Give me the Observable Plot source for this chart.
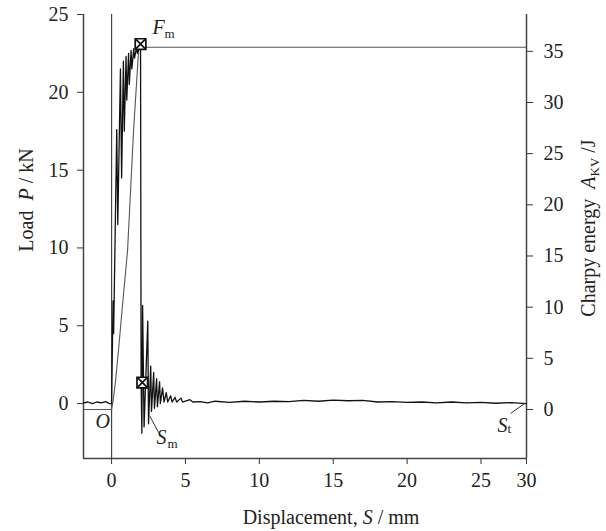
<!DOCTYPE html>
<html><head><meta charset="utf-8">
<script src="https://cdn.jsdelivr.net/npm/d3@7"></script>
<script src="https://cdn.jsdelivr.net/npm/@observablehq/plot@0.6"></script>
<style>body{margin:0;background:#fff} svg{display:block}</style>
</head><body><div id="chart"></div>
<script>
// Scales
const xDomain = [-1.9, 28.08];
const loadDomain = [-3.53, 25];
const energyDomain = [-4.79, 38.6];

// Tick labels
const xTickValues = [0, 5, 10, 15, 20, 25, 28.08];
const xTickLabels = ["0", "5", "10", "15", "20", "25", "30"];
const loadTicks = [0, 5, 10, 15, 20, 25];
const energyTicks = [0, 5, 10, 15, 20, 25, 30, 35];

// Load curve P (kN) vs displacement S (mm)
const loadS = [-1.9, -1.6, -1.3, -1.0, -0.7, -0.4, -0.15, 0, 0.1, 0.14, 0.35, 0.42, 0.6, 0.68, 0.8, 0.86, 0.98, 1.03, 1.15, 1.2, 1.32, 1.37, 1.5, 1.55, 1.7, 1.75, 1.96,
  2.0, 2.05, 2.1, 2.2, 2.45, 2.5, 2.65, 2.7, 2.85, 2.9, 3.05, 3.1, 3.25, 3.3, 3.45, 3.55, 3.7, 3.8, 4.0, 4.1, 4.3, 4.4, 4.7, 4.8, 5.3, 5.5,
  6, 6.5, 7, 8, 9, 10, 11, 12, 13, 14, 15, 16, 17, 18, 19, 20, 21, 22, 23, 24, 25, 26, 27, 28.08];
const loadP = [0.05, 0.1, 0.0, 0.1, 0.05, 0.12, 0.0, 0, 6.6, 4.5, 17.6, 11.5, 21.5, 14.5, 22.0, 17.5, 22.3, 19.5, 22.5, 20.5, 22.7, 21.5, 22.8, 22.2, 22.9, 22.5, 23.1,
  1.35, -1.9, 6.3, -1.5, 5.3, -1.3, 2.4, -0.5, 2.0, -0.3, 1.6, -0.2, 1.4, 0.0, 1.0, 0.1, 0.7, 0.1, 0.5, 0.1, 0.4, 0.1, 0.35, 0.1, 0.25, 0.1,
  0.12, 0.05, 0.15, 0.08, 0.15, 0.1, 0.15, 0.12, 0.2, 0.15, 0.22, 0.18, 0.2, 0.1, 0.12, 0.08, 0.1, 0.05, 0.1, 0.05, 0.08, 0.02, 0.06, 0.0];

// Charpy energy curve A_KV (J)
const energyS = [-1.9, 0, 0.1, 0.27, 0.5, 0.74, 1.08, 1.22, 1.49, 1.83, 1.96, 28.08];
const energyA = [0, 0, 0.8, 2.8, 6.3, 10.2, 15.5, 19.5, 27.3, 35.1, 35.4, 35.4];

// Characteristic points
const pointNames = ["Fm", "Sm"];
const pointS = [1.96, 2.08];
const pointP = [23.1, 1.35];

// Annotation labels: main letter and subscript
const labelMain = ["F", "S", "S", "O"];
const labelMainS = [2.77, 3.04, 26.12, -1.08];
const labelMainP = [24.13, -2.19, -1.41, -1.16];
const labelSub = ["m", "m", "t"];
const labelSubS = [3.58, 3.79, 26.79];
const labelSubP = [23.78, -2.6, -1.6];
const leaderS1 = [2.57, 27.0];
const leaderP1 = [-0.77, -0.64];
const leaderS2 = [3.18, 27.94];
const leaderP2 = [-1.86, 0.0];

const toLoad = e => loadDomain[0] + (e - energyDomain[0]) / (energyDomain[1] - energyDomain[0]) * (loadDomain[1] - loadDomain[0]);
const energyTickPos = energyTicks.map(toLoad);

const loadData = loadS.map((s, i) => ({s, p: loadP[i]}));
const energyData = energyS.map((s, i) => ({s, p: toLoad(energyA[i])}));
const points = pointNames.map((n, i) => ({n, s: pointS[i], p: pointP[i]}));
const annMain = labelMain.map((t, i) => ({t, s: labelMainS[i], p: labelMainP[i]}));
const annSub = labelSub.map((t, i) => ({t, s: labelSubS[i], p: labelSubP[i]}));
const leaders = leaderS1.map((s, i) => ({x1: s, y1: leaderP1[i], x2: leaderS2[i], y2: leaderP2[i]}));

const font = "'Liberation Serif', 'Times New Roman', serif";
const svg = Plot.plot({
  width: 606, height: 531,
  marginLeft: 83, marginRight: 80, marginTop: 14, marginBottom: 73,
  x: {domain: xDomain, label: null},
  y: {domain: loadDomain, label: null},
  style: {fontFamily: font, fontSize: "20px", color: "#333", background: "#fff"},
  marks: [
    Plot.axisY(loadTicks, {anchor: "left", tickSize: 6, tickPadding: 9, label: null, fill: "#222"}),
    Plot.axisY(energyTickPos, {anchor: "right", tickSize: 6, tickPadding: 11, label: null, fill: "#222",
      tickFormat: d => String(energyTicks[energyTickPos.indexOf(d)])}),
    Plot.axisX(xTickValues, {anchor: "bottom", tickSize: 6, tickPadding: 8, label: null, fill: "#222",
      tickFormat: d => xTickLabels[xTickValues.indexOf(d)]}),
    Plot.ruleX([xDomain[0], xDomain[1]], {stroke: "#444", strokeWidth: 1.5}),
    Plot.ruleY([loadDomain[0]], {stroke: "#444", strokeWidth: 1.5}),
    Plot.ruleX([0], {stroke: "#444", strokeWidth: 1.2}),
    Plot.line(energyData, {x: "s", y: "p", stroke: "#555", strokeWidth: 1.1}),
    Plot.line(loadData, {x: "s", y: "p", stroke: "#111", strokeWidth: 1.3}),
    Plot.dot(points, {x: "s", y: "p", symbol: "square", r: 6, fill: "white", stroke: "#111", strokeWidth: 1.7}),
    Plot.dot(points, {x: "s", y: "p", symbol: "times", r: 4.5, stroke: "#111", strokeWidth: 1.7}),
    Plot.link(leaders, {x1: "x1", y1: "y1", x2: "x2", y2: "y2", stroke: "#333", strokeWidth: 1}),
    Plot.text(annMain, {x: "s", y: "p", text: "t", textAnchor: "start", fontStyle: "italic", fontSize: 20, fill: "#222"}),
    Plot.text(annSub, {x: "s", y: "p", text: "t", textAnchor: "start", fontSize: 13, fill: "#222"})
  ]
});

// Axis titles with italic symbols
const sel = d3.select(svg);
const left = sel.append("text").attr("transform", "translate(33,200) rotate(-90)")
  .attr("text-anchor", "middle").attr("font-family", font).attr("font-size", 20).attr("fill", "#222");
left.append("tspan").text("Load\u00a0\u00a0");
left.append("tspan").attr("font-style", "italic").text("P");
left.append("tspan").text(" / kN");

const right = sel.append("text").attr("transform", "translate(595,228) rotate(-90)")
  .attr("text-anchor", "middle").attr("font-family", font).attr("font-size", 20).attr("fill", "#222");
right.append("tspan").text("Charpy energy\u00a0\u00a0");
right.append("tspan").attr("font-style", "italic").text("A");
right.append("tspan").attr("font-size", 13).attr("dy", 4).text("KV");
right.append("tspan").attr("dy", -4).text(" /J");

const bottom = sel.append("text").attr("x", 331).attr("y", 524)
  .attr("text-anchor", "middle").attr("font-family", font).attr("font-size", 20).attr("fill", "#222");
bottom.append("tspan").text("Displacement, ");
bottom.append("tspan").attr("font-style", "italic").text("S");
bottom.append("tspan").text(" / mm");

document.getElementById("chart").appendChild(svg);
</script>
</body></html>
